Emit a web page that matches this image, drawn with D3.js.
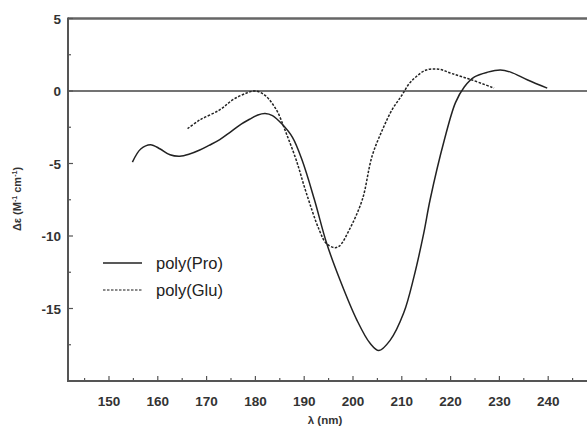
<!DOCTYPE html>
<html><head><meta charset="utf-8">
<script src="https://cdn.jsdelivr.net/npm/d3@7"></script>
<style>
html,body{margin:0;padding:0;background:#fff;}
svg text{font-family:"Liberation Sans",Arial,sans-serif;}
</style></head>
<body><svg id="c" width="587" height="433"></svg>
<script>
// Data (λ in nm, Δε in M^-1 cm^-1)
const proLambda = [154.8,156.5,158.5,160.5,162.5,164.5,166.5,168.6,170.5,172.7,174.8,176.8,178.8,180.5,182.0,183.5,185.5,187.6,189.6,192.1,194.6,197.3,200.8,203.5,205.3,207.6,210.4,212.5,214.5,215.8,218.7,221.0,222.8,224.9,227.6,230.2,232.3,235.8,239.8];
const proValues = [-4.9,-4.0,-3.7,-4.0,-4.4,-4.5,-4.35,-4.07,-3.75,-3.35,-2.85,-2.35,-1.95,-1.65,-1.55,-1.7,-2.3,-3.2,-4.8,-7.5,-10.5,-13.0,-15.8,-17.4,-17.9,-17.2,-15.3,-12.8,-9.8,-7.5,-3.4,-0.8,0.28,0.97,1.3,1.45,1.3,0.76,0.2];
const gluLambda = [166.1,168.6,172.7,175.4,178.2,180.0,181.9,184.3,186.3,188.4,190.4,193.1,194.5,196.2,197.2,199.2,201.9,203.9,206.0,208.0,210.0,211.5,213.0,215.0,217.6,220.3,224.4,228.9];
const gluValues = [-2.6,-2.0,-1.3,-0.6,-0.14,0.0,-0.28,-1.3,-2.9,-4.8,-7.0,-9.6,-10.5,-10.8,-10.7,-9.6,-7.5,-4.5,-2.7,-1.3,-0.3,0.5,1.0,1.45,1.5,1.2,0.76,0.2];
const xTicks = [150,160,170,180,190,200,210,220,230,240];
const yTicks = [5,0,-5,-10,-15];
const seriesNames = ["poly(Pro)","poly(Glu)"];

const svg = d3.select("#c");
const x = d3.scaleLinear().domain([141.6, 250]).range([68, 597]);
const y = d3.scaleLinear().domain([-20, 5]).range([381, 18.5]);
const ink = "#333";
const axisCol = "#555";

// top border at y=5
svg.append("line").attr("x1",68).attr("x2",587).attr("y1",y(5)).attr("y2",y(5))
  .attr("stroke","#666").attr("stroke-width",2.5);
// zero line
svg.append("line").attr("x1",68).attr("x2",587).attr("y1",y(0)).attr("y2",y(0))
  .attr("stroke","#444").attr("stroke-width",1.6);

// x axis
const xAxis = svg.append("g").attr("transform",`translate(0,${y(-20)})`);
xAxis.append("line").attr("x1",68).attr("x2",587).attr("y1",0).attr("y2",0).attr("stroke",axisCol).attr("stroke-width",2);
const xMinor = d3.range(145,250,5);
xAxis.selectAll(".xm").data(xMinor).enter().append("line")
  .attr("x1",d=>x(d)).attr("x2",d=>x(d)).attr("y1",0).attr("y2",d=>d%10===0?-5:-3)
  .attr("stroke",axisCol).attr("stroke-width",1.2);
xAxis.selectAll(".xl").data(xTicks).enter().append("text")
  .attr("x",d=>x(d)).attr("y",25).attr("text-anchor","middle")
  .attr("font-size",13.5).attr("font-weight","bold").attr("fill",ink).text(d=>d);

// y axis
const yAxis = svg.append("g").attr("transform",`translate(68,0)`);
yAxis.append("line").attr("x1",0).attr("x2",0).attr("y1",y(5)-1).attr("y2",y(-20)+1).attr("stroke",axisCol).attr("stroke-width",2);
const yMinor = d3.range(-17.5,5.1,2.5);
yAxis.selectAll(".ym").data(yMinor).enter().append("line")
  .attr("x1",0).attr("x2",d=>d%5===0?5:3).attr("y1",d=>y(d)).attr("y2",d=>y(d))
  .attr("stroke",axisCol).attr("stroke-width",1.2);
yAxis.selectAll(".yl").data(yTicks).enter().append("text")
  .attr("x",-7).attr("y",d=>y(d)+5).attr("text-anchor","end")
  .attr("font-size",13.5).attr("font-weight","bold").attr("fill",ink).text(d=>d===0?"0":(d<0?"-"+(-d):d));

// axis titles
svg.append("text").attr("x",325).attr("y",424).attr("text-anchor","middle")
  .attr("font-size",11.5).attr("font-weight","bold").attr("fill",ink).text("λ (nm)");
const yt = svg.append("text").attr("transform","translate(21,199) rotate(-90)")
  .attr("text-anchor","middle").attr("font-size",11).attr("font-weight","bold").attr("fill",ink);
yt.append("tspan").text("Δε (M");
yt.append("tspan").attr("font-size",7).attr("dy",-4).text("-1");
yt.append("tspan").attr("dy",4).text(" cm");
yt.append("tspan").attr("font-size",7).attr("dy",-4).text("-1");
yt.append("tspan").attr("dy",4).text(")");

// curves
const line = d3.line().x(d=>x(d[0])).y(d=>y(d[1])).curve(d3.curveCatmullRom.alpha(0.5));
svg.append("path").datum(proLambda.map((l,i)=>[l,proValues[i]]))
  .attr("d",line).attr("fill","none").attr("stroke","#222").attr("stroke-width",1.5);
svg.append("path").datum(gluLambda.map((l,i)=>[l,gluValues[i]]))
  .attr("d",line).attr("fill","none").attr("stroke","#222").attr("stroke-width",1.5)
  .attr("stroke-dasharray","2.5,1.5");

// legend
const leg = svg.append("g");
[0,1].forEach(i=>{
  const ly = 263 + i*27;
  leg.append("line").attr("x1",103).attr("x2",142).attr("y1",ly).attr("y2",ly)
    .attr("stroke", i===0?"#222":"#666").attr("stroke-width",1.5)
    .attr("stroke-dasharray", i===0?null:"2.5,1.5");
  leg.append("text").attr("x",156).attr("y",ly+6).attr("font-size",16.5).attr("fill","#222").text(seriesNames[i]);
});
</script></body></html>
